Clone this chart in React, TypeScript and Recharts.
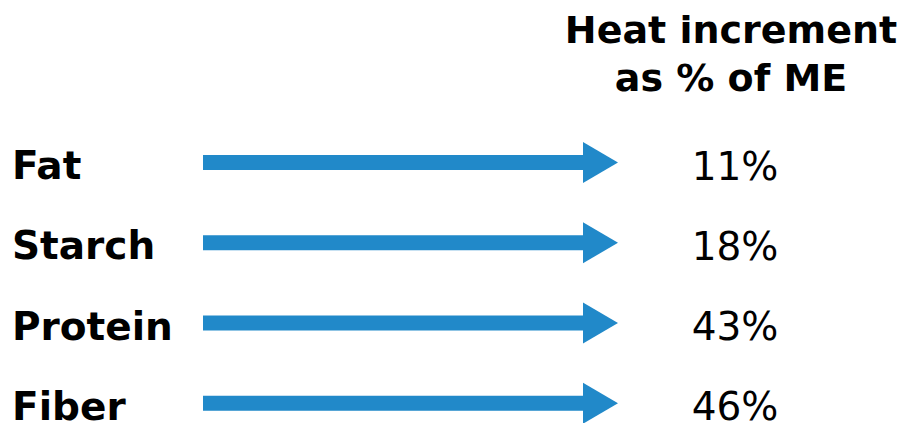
import { BarChart, Bar, XAxis, YAxis, LabelList } from 'recharts';

const nutrients = ['Fat', 'Starch', 'Protein', 'Fiber'];
const heatIncrement = [11, 18, 43, 46];
// every arrow has the same length in the picture
const arrowLength = [1, 1, 1, 1];

const chartData = nutrients.map((name, i) => ({
  name,
  heat: heatIncrement[i],
  span: arrowLength[i],
}));

const FONT = '"DejaVu Sans", Verdana, sans-serif';
const BLUE = '#2189c9';

/** arrow: thin shaft plus a triangle head */
function Arrow(props: any) {
  const { x, y, width, height } = props;
  const cy = y + height / 2;
  const head = 35;
  const shaft = 15;
  const half = 20.5;
  return (
    <g>
      <rect x={x} y={cy - shaft / 2} width={width - head} height={shaft} fill={BLUE} />
      <polygon
        points={`${x + width - head},${cy - half} ${x + width},${cy} ${x + width - head},${cy + half}`}
        fill={BLUE}
      />
    </g>
  );
}

function NameTick(props: any) {
  const { y, payload } = props;
  return (
    <text x={12} y={y + 17} textAnchor="start" fontFamily={FONT} fontWeight="bold" fontSize={39} fill="#000">
      {payload.value}
    </text>
  );
}

function ValueLabel(props: any) {
  const { x, y, width, height, value } = props;
  return (
    <text
      x={x + width + 117}
      y={y + height / 2 + 17}
      textAnchor="middle"
      fontFamily={FONT}
      fontSize={39}
      fill="#000"
    >
      {value + '%'}
    </text>
  );
}

export default function App() {
  return (
    <div
      style={{
        position: 'absolute',
        left: 0,
        top: 0,
        width: 910,
        height: 423,
        overflow: 'hidden',
        background: '#fff',
      }}
    >
      <div
        style={{
          position: 'absolute',
          left: 531,
          top: 6,
          width: 400,
          textAlign: 'center',
          fontFamily: FONT,
          fontWeight: 'bold',
          fontSize: 38,
          lineHeight: '48px',
          color: '#000',
        }}
      >
        Heat increment
        <br />
        as % of ME
      </div>
      <BarChart
        layout="vertical"
        width={910}
        height={443}
        data={chartData}
        margin={{ top: 122, right: 292, bottom: 0, left: 0 }}
      >
        <XAxis type="number" domain={[0, 1]} hide />
        <YAxis
          type="category"
          dataKey="name"
          width={203}
          axisLine={false}
          tickLine={false}
          tick={<NameTick />}
        />
        <Bar dataKey="span" barSize={41} shape={<Arrow />} isAnimationActive={false}>
          <LabelList dataKey="heat" content={<ValueLabel />} />
        </Bar>
      </BarChart>
    </div>
  );
}
